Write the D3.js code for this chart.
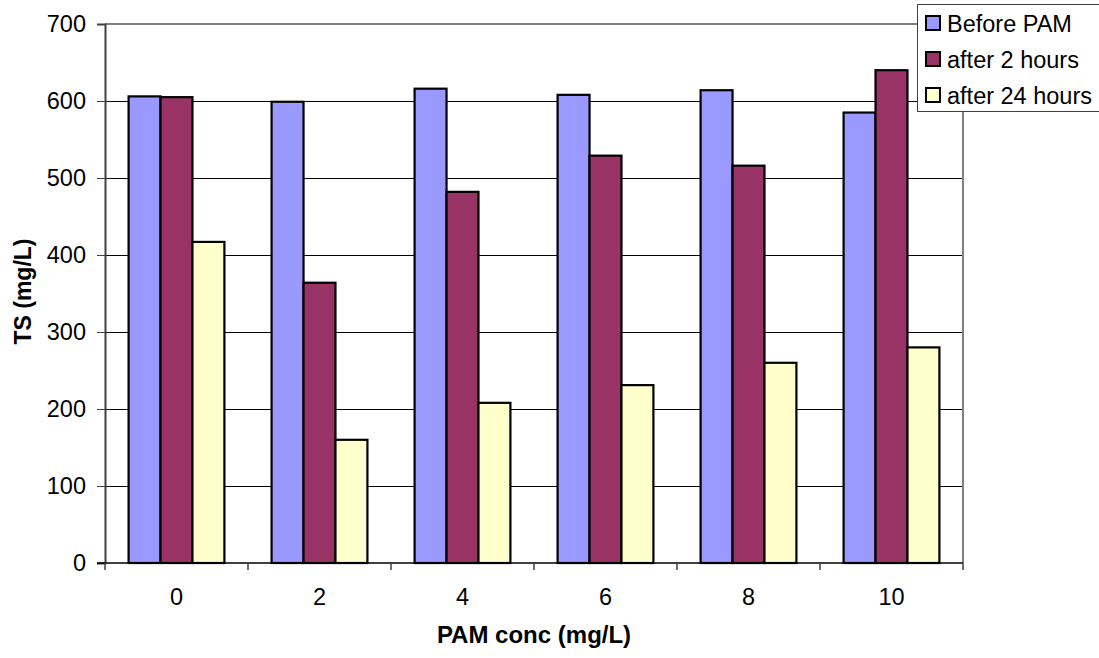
<!DOCTYPE html>
<html>
<head>
<meta charset="utf-8">
<script src="https://cdn.jsdelivr.net/npm/d3@7"></script>
<style>
  html, body { margin: 0; padding: 0; background: #fff; }
  svg { display: block; font-family: "Liberation Sans", Arial, sans-serif; }
</style>
</head>
<body>
<svg id="chart" width="1099" height="658"></svg>
<script>
// PAM dose (mg/L) and total solids measured at each stage
const categories = ["0", "2", "4", "6", "8", "10"];
const seriesNames = ["Before PAM", "after 2 hours", "after 24 hours"];
const beforePAM   = [606, 599, 616, 608, 614, 585];
const after2h     = [605, 364, 482, 529, 516, 640];
const after24h    = [417, 160, 208, 231, 260, 280];
const yTicks = [0, 100, 200, 300, 400, 500, 600, 700];
const colors = ["#9999FF", "#993366", "#FFFFCC"];

const seriesValues = [beforePAM, after2h, after24h];

const svg = d3.select("#chart");
const plot = { left: 105, right: 963, top: 24, bottom: 563 };
const FONT = "Liberation Sans, Arial, sans-serif";

const x = d3.scaleBand()
  .domain(categories)
  .range([plot.left, plot.right])
  .paddingInner(0.33)
  .paddingOuter(0.165);

const xInner = d3.scaleBand()
  .domain(seriesNames)
  .range([0, x.bandwidth()]);

const y = d3.scaleLinear()
  .domain([0, 700])
  .range([plot.bottom, plot.top]);

// horizontal gridlines
svg.append("g")
  .selectAll("line")
  .data(yTicks.filter(t => t > 0 && t < 700))
  .join("line")
  .attr("x1", plot.left).attr("x2", plot.right)
  .attr("y1", d => y(d)).attr("y2", d => y(d))
  .attr("stroke", "#000").attr("stroke-width", 1)
  .attr("shape-rendering", "crispEdges");

// plot frame: top and right edges
svg.append("path")
  .attr("d", `M${plot.left},${plot.top}H${plot.right}V${plot.bottom}`)
  .attr("fill", "none")
  .attr("stroke", "#808080")
  .attr("stroke-width", 2);

// bars
const groups = svg.append("g")
  .selectAll("g")
  .data(categories)
  .join("g")
  .attr("transform", d => `translate(${x(d)},0)`);

groups.selectAll("rect")
  .data((d, i) => seriesNames.map((s, j) => ({ s, j, v: seriesValues[j][i] })))
  .join("rect")
  .attr("x", d => xInner(d.s))
  .attr("width", xInner.bandwidth())
  .attr("y", d => y(d.v))
  .attr("height", d => y(0) - y(d.v))
  .attr("fill", d => colors[d.j])
  .attr("stroke", "#000")
  .attr("stroke-width", 2.2);

// y axis
const yAxis = d3.axisLeft(y)
  .tickValues(yTicks)
  .tickSize(8)
  .tickPadding(11)
  .tickFormat(d3.format("d"));

const gy = svg.append("g")
  .attr("transform", `translate(${plot.left},0)`)
  .call(yAxis);
gy.select(".domain").attr("stroke", "#404040").attr("stroke-width", 2);
gy.selectAll(".tick line").attr("stroke", "#404040");
gy.selectAll(".tick text")
  .attr("font-size", 23.5)
  .attr("fill", "#000")
  .attr("font-family", FONT);

// x axis: tick marks at category boundaries, labels at band centres
const gx = svg.append("g");
gx.append("line")
  .attr("x1", plot.left - 8).attr("x2", plot.right)
  .attr("y1", plot.bottom).attr("y2", plot.bottom)
  .attr("stroke", "#000").attr("stroke-width", 1.5);

const boundaries = d3.range(categories.length + 1).map(i => plot.left + i * (plot.right - plot.left) / categories.length);
gx.selectAll("line.tk")
  .data(boundaries)
  .join("line")
  .attr("class", "tk")
  .attr("x1", d => d).attr("x2", d => d)
  .attr("y1", plot.bottom).attr("y2", plot.bottom + 7)
  .attr("stroke", "#404040").attr("stroke-width", 1.5);

gx.selectAll("text")
  .data(categories)
  .join("text")
  .attr("x", d => x(d) + x.bandwidth() / 2)
  .attr("y", 605)
  .attr("text-anchor", "middle")
  .attr("font-size", 23.5)
  .text(d => d);

// axis titles
svg.append("text")
  .attr("x", (plot.left + plot.right) / 2)
  .attr("y", 643)
  .attr("text-anchor", "middle")
  .attr("font-size", 24)
  .attr("font-weight", "bold")
  .text("PAM conc (mg/L)");

svg.append("text")
  .attr("transform", `translate(31,${(plot.top + plot.bottom) / 2 - 2}) rotate(-90)`)
  .attr("text-anchor", "middle")
  .attr("font-size", 23)
  .attr("font-weight", "bold")
  .text("TS (mg/L)");

// legend
const legend = svg.append("g");
legend.append("rect")
  .attr("x", 917.5).attr("y", 4.5)
  .attr("width", 190).attr("height", 107)
  .attr("fill", "#fff")
  .attr("stroke", "#404040").attr("stroke-width", 1);

const items = legend.selectAll("g.item")
  .data(seriesNames)
  .join("g")
  .attr("class", "item")
  .attr("transform", (d, i) => `translate(926,${23 + i * 36})`);

items.append("rect")
  .attr("x", 0).attr("y", -7)
  .attr("width", 14).attr("height", 14)
  .attr("fill", (d, i) => colors[i])
  .attr("stroke", "#000").attr("stroke-width", 2);

items.append("text")
  .attr("x", 21).attr("y", 8.5)
  .attr("font-size", 23.5)
  .text(d => d);
</script>
</body>
</html>
